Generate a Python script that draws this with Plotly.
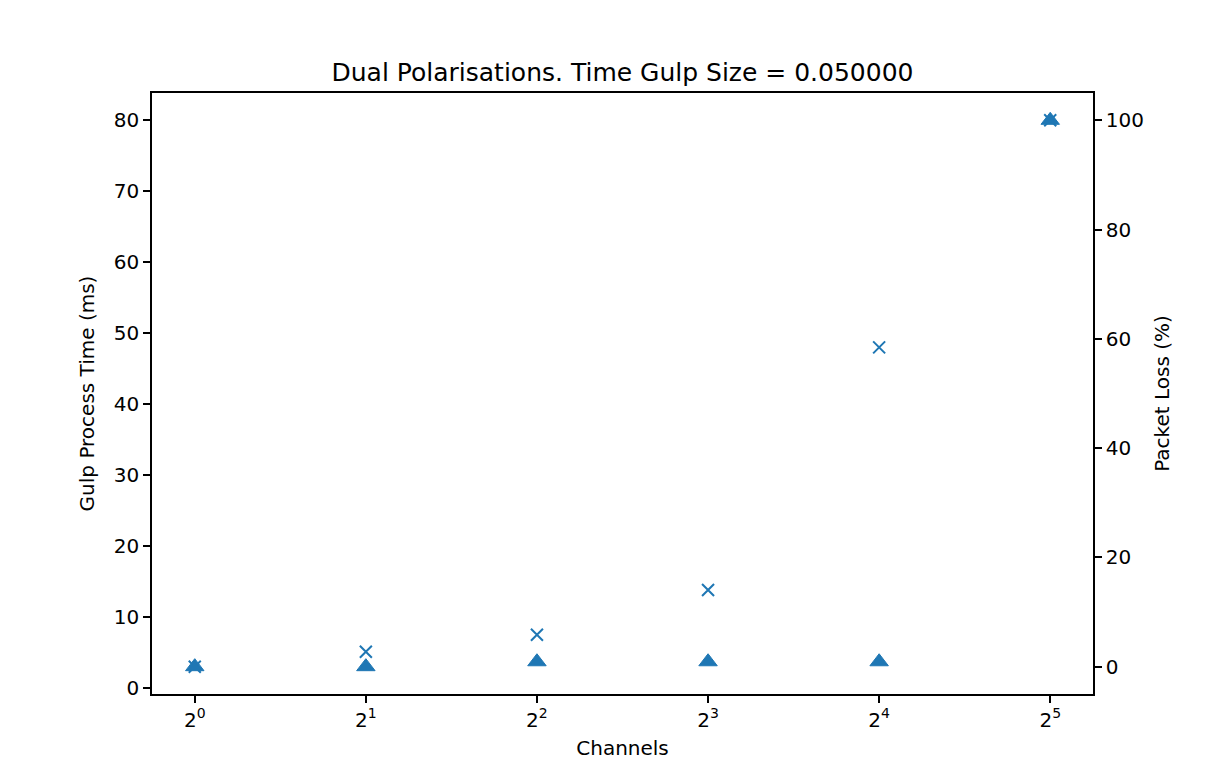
import plotly.graph_objects as go
import math

channels = [1, 2, 4, 8, 16, 32]
tick_labels = ["2<sup>0</sup>", "2<sup>1</sup>", "2<sup>2</sup>", "2<sup>3</sup>", "2<sup>4</sup>", "2<sup>5</sup>"]
gulp_time_ms = [3.0, 5.1, 7.5, 13.8, 48.0, 80.0]
packet_loss_pct = [0.0, 0.0, 0.9, 0.9, 0.9, 100.0]

C = "#1f77b4"
FONT = "DejaVu Sans"

def mrange(vals):
    lo, hi = min(vals), max(vals)
    s = hi - lo
    return [lo - 0.05 * s, hi + 0.05 * s]

xl = [math.log2(min(channels)), math.log2(max(channels))]
xs = xl[1] - xl[0]
xr = [(xl[0] - 0.05 * xs) * math.log10(2), (xl[1] + 0.05 * xs) * math.log10(2)]

fig = go.Figure()
fig.add_trace(go.Scatter(
    x=channels, y=gulp_time_ms, mode="markers", yaxis="y",
    marker=dict(symbol="x-thin", size=12, color=C, line=dict(color=C, width=2)),
    showlegend=False))
fig.add_trace(go.Scatter(
    x=channels, y=packet_loss_pct, mode="markers", yaxis="y2",
    marker=dict(symbol="triangle-up", size=16, color=C, line=dict(color=C, width=1)),
    showlegend=False))

axis_common = dict(showline=True, linecolor="black", linewidth=1.6, ticks="outside",
                   ticklen=7, tickwidth=1.6, tickcolor="black", showgrid=False,
                   zeroline=False, tickfont=dict(family=FONT, size=20, color="black"))

fig.update_layout(
    width=1215, height=782,
    margin=dict(l=152, r=122, t=93, b=88),
    paper_bgcolor="white", plot_bgcolor="white",
    font=dict(family=FONT, color="black"),
    title=dict(text="Dual Polarisations. Time Gulp Size = 0.050000",
               x=0.5, xanchor="center", xref="paper",
               y=1 - 72 / 782, yref="container", yanchor="middle",
               font=dict(family=FONT, size=25, color="black")),
    xaxis=dict(type="log", range=xr, tickvals=channels, ticktext=tick_labels,
               mirror=True,
               title=dict(text="Channels", font=dict(family=FONT, size=20, color="black"), standoff=10),
               **axis_common),
    yaxis=dict(range=mrange(gulp_time_ms), tickvals=[0, 10, 20, 30, 40, 50, 60, 70, 80],
               title=dict(text="Gulp Process Time (ms)", font=dict(family=FONT, size=20, color="black"), standoff=14),
               **axis_common),
    yaxis2=dict(range=mrange(packet_loss_pct), tickvals=[0, 20, 40, 60, 80, 100],
                overlaying="y", side="right",
                title=dict(text="Packet Loss (%)", font=dict(family=FONT, size=20, color="black"), standoff=12),
                **axis_common),
)

fig.write_html("out.html")
